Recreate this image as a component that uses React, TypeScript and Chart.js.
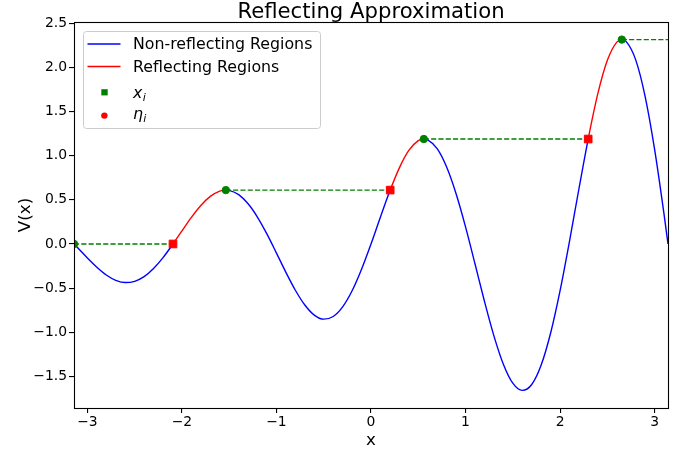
import React, { useEffect, useRef } from "react";
import { Chart, registerables } from "chart.js";

Chart.register(...registerables);

// ---- data ----
const curveX = [
  -3.1416, -3.1, -3.0, -2.9, -2.8, -2.7, -2.6, -2.5, -2.4, -2.3, -2.2, -2.0944,
  -2.0, -1.9, -1.8, -1.7, -1.6, -1.5356, -1.5, -1.4, -1.3, -1.2, -1.1, -1.0,
  -0.9, -0.8, -0.7, -0.6, -0.5, -0.4, -0.3, -0.2, -0.1, 0.0, 0.1, 0.203, 0.3,
  0.4, 0.5, 0.5588, 0.6, 0.7, 0.8, 0.9, 1.0, 1.1, 1.2, 1.3, 1.4, 1.5, 1.6, 1.7,
  1.8, 1.9, 2.0, 2.1, 2.2, 2.2973, 2.4, 2.5, 2.6, 2.6532, 2.7, 2.8, 2.9, 3.0,
  3.1, 3.1416,
];
const curveV = [
  0.0, -0.046, -0.159, -0.263, -0.351, -0.411, -0.437, -0.423, -0.37, -0.278,
  -0.155, 0.0, 0.148, 0.301, 0.436, 0.539, 0.599, 0.61, 0.606, 0.558, 0.455,
  0.302, 0.111, -0.103, -0.321, -0.524, -0.691, -0.805, -0.851, -0.821, -0.712,
  -0.53, -0.286, 0.0, 0.305, 0.61, 0.862, 1.059, 1.17, 1.188, 1.179, 1.079,
  0.871, 0.569, 0.194, -0.224, -0.648, -1.04, -1.361, -1.576, -1.658, -1.591,
  -1.371, -1.008, -0.528, 0.033, 0.628, 1.188, 1.704, 2.079, 2.285, 2.314,
  2.291, 2.084, 1.669, 1.071, 0.334, 0.0,
];
const xiX = [-3.1416, -1.5356, 0.5588, 2.6532];
const xiV = [0.0, 0.61, 1.188, 2.314];
const etaX = [-2.0944, 0.203, 2.2973];
const etaV = [0.0, 0.61, 1.188];
const xTicks = [-3, -2, -1, 0, 1, 2, 3];
const yTicks = [-1.5, -1.0, -0.5, 0.0, 0.5, 1.0, 1.5, 2.0, 2.5];

const X_MIN = -Math.PI;
const X_MAX = Math.PI;
const Y_MIN = -1.857;
const Y_MAX = 2.513;

const BLUE = "#0000ff";
const RED = "#ff0000";
const GREEN = "#008000";
const FONT = '"DejaVu Sans", Verdana, sans-serif';

const reflectRanges = etaX.map((e, k) => [e, xiX[k + 1]]);
const isReflect = (a: number, b: number) =>
  reflectRanges.some(([lo, hi]) => a >= lo - 1e-6 && b <= hi + 1e-6);

const fmtMinus = (s: string) => s.replace("-", "\u2212");

const decor = {
  id: "decor",
  afterDraw(chart: any) {
    const { ctx, chartArea: a } = chart;
    ctx.save();
    // frame
    ctx.strokeStyle = "#000";
    ctx.lineWidth = 1.1;
    ctx.strokeRect(Math.round(a.left) + 0.5, Math.round(a.top) + 0.5,
      Math.round(a.right) - Math.round(a.left), Math.round(a.bottom) - Math.round(a.top));

    // title
    ctx.fillStyle = "#000";
    ctx.font = `21.2px ${FONT}`;
    ctx.textAlign = "center";
    ctx.textBaseline = "alphabetic";
    const cx = (a.left + a.right) / 2;
    ctx.fillText("Reflecting Approximation", cx, 17.8);

    // axis titles
    ctx.font = `16.7px ${FONT}`;
    ctx.fillText("x", cx, 445);
    ctx.save();
    ctx.translate(29.5, (a.top + a.bottom) / 2);
    ctx.rotate(-Math.PI / 2);
    ctx.fillText("V(x)", 0, 0);
    ctx.restore();

    // legend
    const lx = 83.5, ly = 31.5, lw = 237, lh = 97;
    ctx.beginPath();
    if (ctx.roundRect) ctx.roundRect(lx, ly, lw, lh, 3);
    else ctx.rect(lx, ly, lw, lh);
    ctx.fillStyle = "rgba(255,255,255,0.8)";
    ctx.fill();
    ctx.strokeStyle = "#cccccc";
    ctx.lineWidth = 1;
    ctx.stroke();

    ctx.lineWidth = 1.4;
    ctx.strokeStyle = BLUE;
    ctx.beginPath();
    ctx.moveTo(87.5, 44);
    ctx.lineTo(120.5, 44);
    ctx.stroke();
    ctx.strokeStyle = RED;
    ctx.beginPath();
    ctx.moveTo(87.5, 66.5);
    ctx.lineTo(120.5, 66.5);
    ctx.stroke();

    ctx.fillStyle = GREEN;
    ctx.fillRect(101.3, 89.2, 6.4, 6.2);
    ctx.fillStyle = RED;
    ctx.beginPath();
    ctx.arc(104.4, 115.6, 3.2, 0, Math.PI * 2);
    ctx.fill();

    ctx.fillStyle = "#000";
    ctx.textAlign = "left";
    ctx.font = `15.8px ${FONT}`;
    ctx.fillText("Non-reflecting Regions", 133, 49);
    ctx.fillText("Reflecting Regions", 133, 72.2);

    ctx.font = `italic 15.8px ${FONT}`;
    ctx.fillText("x", 133, 97.5);
    const wx = ctx.measureText("x").width;
    ctx.fillText("\u03b7", 133, 118.8);
    const we = ctx.measureText("\u03b7").width;
    ctx.font = `italic 11px ${FONT}`;
    ctx.fillText("i", 133 + wx + 0.3, 101);
    ctx.fillText("i", 133 + we + 0.3, 122.3);
    ctx.restore();
  },
};

export default function App() {
  const ref = useRef<HTMLCanvasElement>(null);

  useEffect(() => {
    document.body.style.margin = "0";
    const dashed = xiX.map((x, k) => ({
      type: "scatter" as const,
      data:
        k < etaX.length
          ? [{ x, y: xiV[k] }, { x: etaX[k], y: etaV[k] }]
          : [{ x, y: xiV[k] }, { x: X_MAX, y: xiV[k] }],
      showLine: true,
      borderColor: GREEN,
      borderWidth: 1.4,
      borderDash: [5.1, 2.2],
      pointRadius: 0,
      order: 1,
      clip: 0,
    }));

    const chart = new Chart(ref.current!, {
      type: "scatter",
      data: {
        datasets: [
          {
            data: xiX.map((x, i) => ({ x, y: xiV[i] })),
            pointStyle: "circle",
            pointRadius: 3.7,
            borderWidth: 1,
            backgroundColor: GREEN,
            borderColor: GREEN,
            order: 0,
            clip: 0,
          },
          {
            data: etaX.map((x, i) => ({ x, y: etaV[i] })),
            pointStyle: "rect",
            pointRadius: 5.4,
            borderWidth: 1,
            backgroundColor: RED,
            borderColor: RED,
            order: 0,
            clip: 0,
          },
          ...dashed,
          {
            data: curveX.map((x, i) => ({ x, y: curveV[i] })),
            showLine: true,
            pointRadius: 0,
            borderColor: BLUE,
            borderWidth: 1.4,
            cubicInterpolationMode: "monotone",
            segment: {
              borderColor: (c: any) =>
                isReflect(c.p0.parsed.x, c.p1.parsed.x) ? RED : BLUE,
            },
            order: 2,
            clip: 0,
          },
        ] as any,
      },
      options: {
        responsive: false,
        animation: false,
        devicePixelRatio: 1,
        events: [],
        layout: { padding: { left: 0, top: 22, right: 22, bottom: 0 } },
        plugins: {
          legend: { display: false },
          title: { display: false },
          tooltip: { enabled: false },
        },
        scales: {
          x: {
            type: "linear",
            min: X_MIN,
            max: X_MAX,
            afterBuildTicks: (s: any) => {
              s.ticks = xTicks.map((v) => ({ value: v }));
            },
            afterFit: (s: any) => {
              s.height = 42;
            },
            ticks: {
              autoSkip: false,
              maxRotation: 0,
              padding: 1,
              color: "#000",
              font: { family: FONT, size: 13.9 },
              callback: (v: any) => fmtMinus(String(Math.round(v))),
            },
            grid: {
              drawOnChartArea: false,
              drawTicks: true,
              tickLength: 5,
              color: "#000",
              lineWidth: 1.1,
            },
            border: { display: false },
          },
          y: {
            type: "linear",
            min: Y_MIN,
            max: Y_MAX,
            afterBuildTicks: (s: any) => {
              s.ticks = yTicks.map((v) => ({ value: v }));
            },
            afterFit: (s: any) => {
              s.width = 74;
            },
            ticks: {
              autoSkip: false,
              padding: 2,
              color: "#000",
              font: { family: FONT, size: 13.9 },
              callback: (v: any) => fmtMinus(Number(v).toFixed(1)),
            },
            grid: {
              drawOnChartArea: false,
              drawTicks: true,
              tickLength: 5,
              color: "#000",
              lineWidth: 1.1,
            },
            border: { display: false },
          },
        },
      },
      plugins: [decor],
    } as any);
    return () => chart.destroy();
  }, []);

  return (
    <div style={{ width: 690, height: 450, position: "relative" }}>
      <canvas
        ref={ref}
        width={690}
        height={450}
        style={{ display: "block", width: 690, height: 450 }}
      />
    </div>
  );
}
